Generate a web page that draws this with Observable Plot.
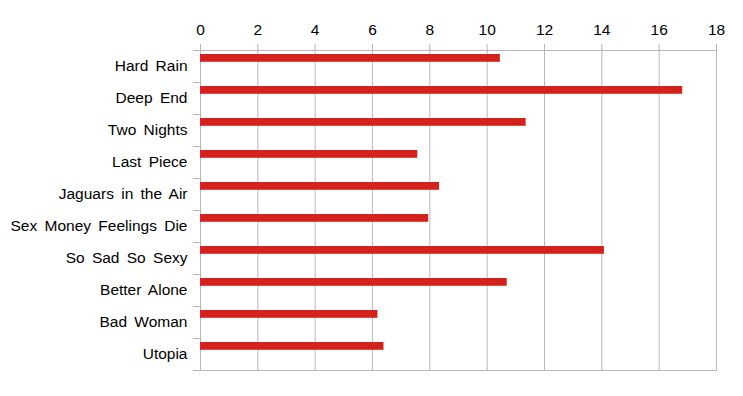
<!DOCTYPE html>
<html><head><meta charset="utf-8">
<script src="https://cdn.jsdelivr.net/npm/d3@7"></script>
<script src="https://cdn.jsdelivr.net/npm/@observablehq/plot@0.6"></script>
<style>
body{margin:0;background:#fff}
#chart svg text{word-spacing:3px}
</style>
</head><body><div id="chart"></div>
<script>
const songs = ["Hard Rain","Deep End","Two Nights","Last Piece","Jaguars in the Air","Sex Money Feelings Die","So Sad So Sexy","Better Alone","Bad Woman","Utopia"];
const values = [10.46,16.82,11.36,7.58,8.34,7.96,14.09,10.7,6.19,6.4];
const xTicks = [0,2,4,6,8,10,12,14,16,18];
const data = songs.map((s,i)=>({song:s, value:values[i]}));

const gridColor = "#b8b8b8";
const barColor = "#d3221c";

const separators = (index, scales, vals, dims) => {
  const y = scales.y;
  const step = y(songs[1]) - y(songs[0]);
  const left = dims.marginLeft, right = dims.width - dims.marginRight;
  const g = d3.create("svg:g").attr("stroke", gridColor).attr("fill","none").attr("shape-rendering","crispEdges");
  const ys = songs.map(s => y(s)).concat([y(songs[songs.length-1]) + step]);
  ys.forEach((yy,i) => {
    const full = (i === 0 || i === ys.length-1);
    g.append("line").attr("x1", left-7).attr("x2", full ? right : left).attr("y1", Math.round(yy)+0.5).attr("y2", Math.round(yy)+0.5);
  });
  return g.node();
};

const chart = Plot.plot({
  width: 743, height: 396,
  marginLeft: 200, marginRight: 27, marginTop: 49, marginBottom: 25,
  style: {fontFamily: "'Liberation Sans', Arial, Helvetica, sans-serif", fontSize: "15px", color: "#000", background: "#fff"},
  x: {domain: [0,18]},
  y: {type: "band", domain: songs, padding: 0},
  marks: [
    Plot.gridX(xTicks, {stroke: gridColor, strokeOpacity: 1}),
    Plot.axisX(xTicks, {anchor: "top", tickSize: 6, tickPadding: 9, stroke: gridColor, strokeOpacity: 1, fill: "#000", fontSize: 15.5, label: null}),
    Plot.axisY({tickSize: 0, tickPadding: 13, fontSize: 15.5, fill: "#000", label: null}),
    separators,
    Plot.barX(data, {y: "song", x: "value", fill: barColor, insetTop: 4, insetBottom: 20.2})
  ]
});
document.getElementById("chart").append(chart);
</script>
</body></html>
